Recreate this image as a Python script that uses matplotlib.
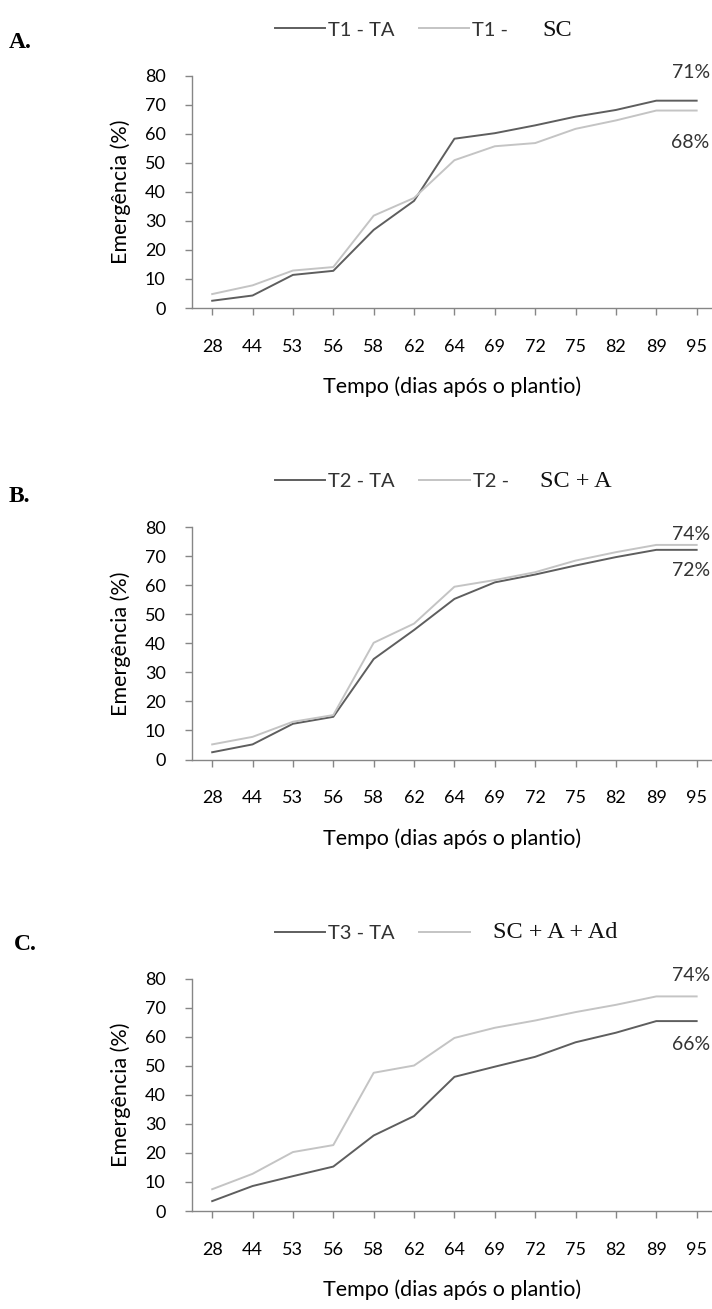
import matplotlib.pyplot as plt
from matplotlib.lines import Line2D

plt.rcParams['font.family'] = ['Lato', 'DejaVu Sans']

# x categories (days after planting)
days = ['28', '44', '53', '56', '58', '62', '64', '69', '72', '75', '82', '89', '95']

# emergence (%)
t1_ta = [2.5, 4.3, 11.4, 12.8, 26.9, 36.9, 58.3, 60.2, 62.9, 65.9, 68.2, 71.4, 71.4]
t1_sc = [4.8, 7.8, 12.9, 14.1, 31.8, 37.9, 50.9, 55.7, 56.8, 61.7, 64.6, 68.0, 68.0]

t2_ta = [2.5, 5.2, 12.3, 14.7, 34.6, 44.6, 55.3, 61.0, 63.7, 66.8, 69.7, 72.2, 72.2]
t2_sca = [5.2, 7.8, 13.0, 15.3, 40.2, 46.8, 59.5, 61.8, 64.5, 68.5, 71.4, 73.9, 73.9]

t3_ta = [3.4, 8.6, 12.0, 15.3, 26.0, 32.7, 46.2, 49.7, 53.1, 58.1, 61.4, 65.4, 65.4]
t3_scaad = [7.5, 12.8, 20.3, 22.7, 47.6, 50.1, 59.6, 63.1, 65.6, 68.5, 71.0, 73.9, 73.9]

panels = [
    dict(letter='A.', dark=t1_ta, light=t1_sc, labels=['T1 - TA', 'T1 -'], serif='SC',
         serif_x=542, top='71%', top_y=81, bot='68%', bot_y=57, letter_dy=12, letter_x=9),
    dict(letter='B.', dark=t2_ta, light=t2_sca, labels=['T2 - TA', 'T2 -'], serif='SC + A',
         serif_x=540, top='74%', top_y=77.5, bot='72%', bot_y=65, letter_dy=15, letter_x=9),
    dict(letter='C.', dark=t3_ta, light=t3_scaad, labels=['T3 - TA', ''], serif='SC + A + Ad',
         serif_x=493, top='74%', top_y=81, bot='66%', bot_y=57.5, letter_dy=11, letter_x=14),
]

dark_color = '#5e5e5e'
light_color = '#c4c4c4'
spine_color = '#868686'

W, H = 712, 1309
fig = plt.figure(figsize=(W / 100, H / 100), dpi=100)

for i, p in enumerate(panels):
    off = i * 451.5
    top_px = 75.7 + off
    bot_px = 308 + off
    ax = fig.add_axes([192 / W, 1 - bot_px / H, 520 / W, (bot_px - top_px) / H])

    x = range(len(days))
    ax.plot(x, p['dark'], color=dark_color, lw=1.4)
    ax.plot(x, p['light'], color=light_color, lw=1.4)

    ax.set_xlim(-0.5, 12.38)
    ax.set_ylim(0, 80)
    ax.set_yticks(range(0, 81, 10))
    ax.set_xticks(list(x))
    ax.set_xticklabels(days)
    for s in ['top', 'right']:
        ax.spines[s].set_visible(False)
    for s in ['left', 'bottom']:
        ax.spines[s].set_color(spine_color)
        ax.spines[s].set_linewidth(1.0)
    ax.tick_params(axis='x', direction='out', length=5, width=1, color=spine_color,
                   pad=17, labelsize=13)
    ax.tick_params(axis='y', direction='out', length=5, width=1, color=spine_color,
                   pad=14, labelsize=13)
    ax.set_ylabel('Emergência (%)', fontsize=15.5, labelpad=10)
    ax.set_xlabel('Tempo (dias após o plantio)', fontsize=15.5, labelpad=16)

    ax.text(11.85, p['top_y'], p['top'], ha='center', va='center', fontsize=14, color='#333333')
    ax.text(11.85, p['bot_y'], p['bot'], ha='center', va='center', fontsize=14, color='#333333')

    handles = [Line2D([], [], color=dark_color, lw=1.4), Line2D([], [], color=light_color, lw=1.4)]
    leg_y = 1 - (30 + off) / H
    fig.legend(handles, p['labels'], loc='center left', bbox_to_anchor=(275 / W, leg_y),
               ncol=2, frameon=False, fontsize=14.5, handlelength=2.5, handletextpad=0.15,
               columnspacing=1.2, borderpad=0, borderaxespad=0, labelcolor='#333333')
    fig.text(p['serif_x'] / W, leg_y, p['serif'], family='Liberation Serif', fontsize=17.5,
             ha='left', va='center', color='#111111')
    fig.text(p['letter_x'] / W, 1 - (30 + p['letter_dy'] + off) / H, p['letter'],
             family='Liberation Serif', fontweight='bold', fontsize=17, ha='left', va='center')

fig.savefig('out.png', dpi=100)
